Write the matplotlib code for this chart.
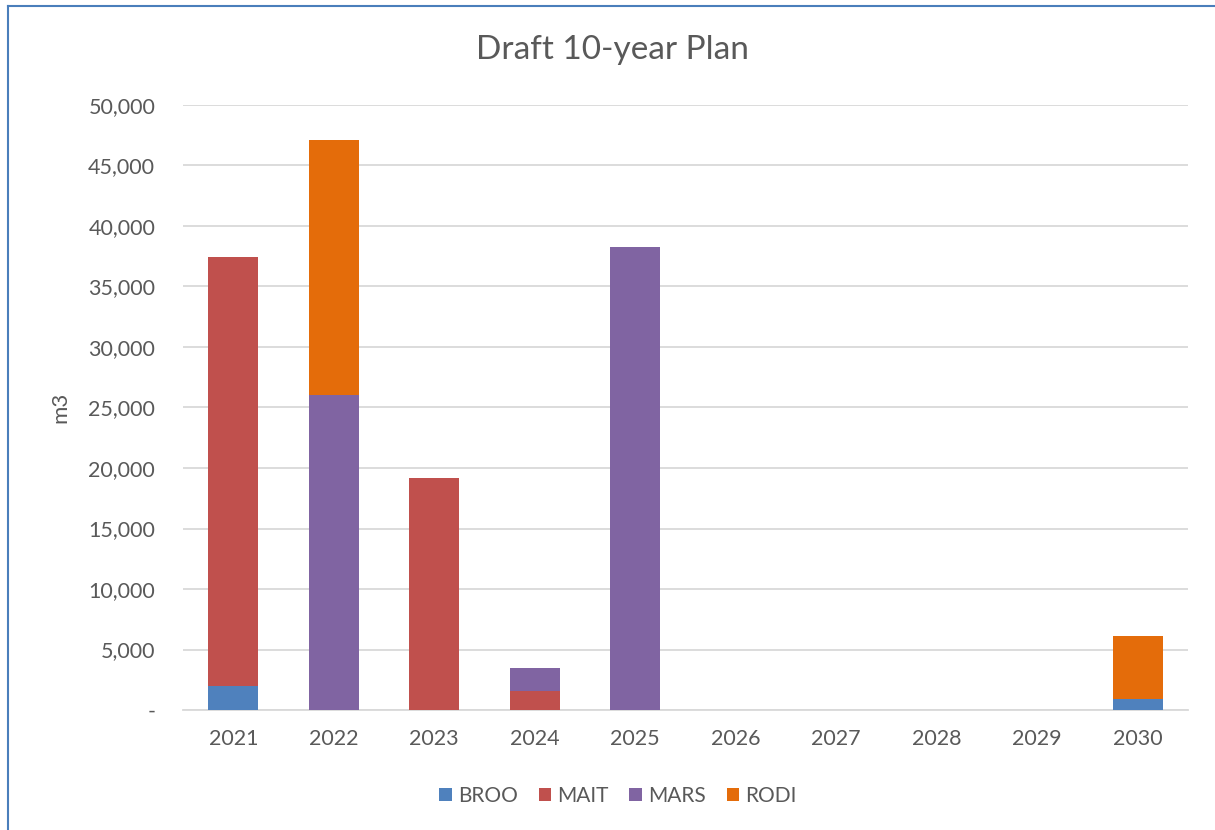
import matplotlib.pyplot as plt
from matplotlib.ticker import FuncFormatter
from matplotlib.lines import Line2D

years = ['2021', '2022', '2023', '2024', '2025', '2026', '2027', '2028', '2029', '2030']
broo = [2000, 0, 0, 0, 0, 0, 0, 0, 0, 900]
mait = [35400, 0, 19200, 1600, 0, 0, 0, 0, 0, 0]
mars = [0, 26000, 0, 1900, 38300, 0, 0, 0, 0, 0]
rodi = [0, 21100, 0, 0, 0, 0, 0, 0, 0, 5200]

series = [('BROO', broo, '#4f81bd'), ('MAIT', mait, '#c0504d'),
          ('MARS', mars, '#8064a2'), ('RODI', rodi, '#e46c0a')]

plt.rcParams['font.family'] = ['Lato', 'DejaVu Sans']
txt = '#595959'

fig = plt.figure(figsize=(12.15, 8.3), dpi=100)
ax = fig.add_axes([183 / 1215, 1 - 710 / 830, 1005 / 1215, 605 / 830])

x = list(range(len(years)))
bottom = [0] * len(years)
for name, vals, col in series:
    ax.bar(x, vals, 0.5, bottom=bottom, color=col, label=name, zorder=3)
    bottom = [b + v for b, v in zip(bottom, vals)]

ax.set_xlim(-0.5, len(years) - 0.5)
ax.set_ylim(0, 50000)
ax.set_yticks(range(0, 50001, 5000))
ax.yaxis.set_major_formatter(FuncFormatter(lambda v, p: '-' if v == 0 else f'{int(v):,}'))
ax.set_xticks(x)
ax.set_xticklabels(years)
ax.grid(axis='y', color='#d9d9d9', linewidth=1.3, zorder=0)
for s in ['top', 'right', 'left']:
    ax.spines[s].set_visible(False)
ax.spines['bottom'].set_color('#d9d9d9')
ax.spines['bottom'].set_linewidth(1.3)
ax.tick_params(axis='both', length=0, labelsize=15.5, colors=txt)
ax.tick_params(axis='y', pad=20)
ax.tick_params(axis='x', pad=14)
ax.set_ylabel('m3', fontsize=16, color=txt, labelpad=13)

fig.text(612 / 1215, 1 - 50 / 830, 'Draft 10-year Plan', ha='center', va='center',
         fontsize=24, color=txt)

ax.legend(loc='center', bbox_to_anchor=(618 / 1215, 1 - 796 / 830), bbox_transform=fig.transFigure,
          ncol=4, frameon=False, fontsize=15, labelcolor=txt, handlelength=0.6,
          handleheight=0.6, columnspacing=1.0, handletextpad=0.3)

# chart border (left and top visible)
fig.add_artist(Line2D([8 / 1215, 8 / 1215], [0, 1 - 6 / 830], color='#4a7ebb', linewidth=1.5,
                      transform=fig.transFigure))
fig.add_artist(Line2D([8 / 1215, 1], [1 - 6 / 830, 1 - 6 / 830], color='#4a7ebb', linewidth=1.5,
                      transform=fig.transFigure))

fig.savefig('out.png', dpi=100)
